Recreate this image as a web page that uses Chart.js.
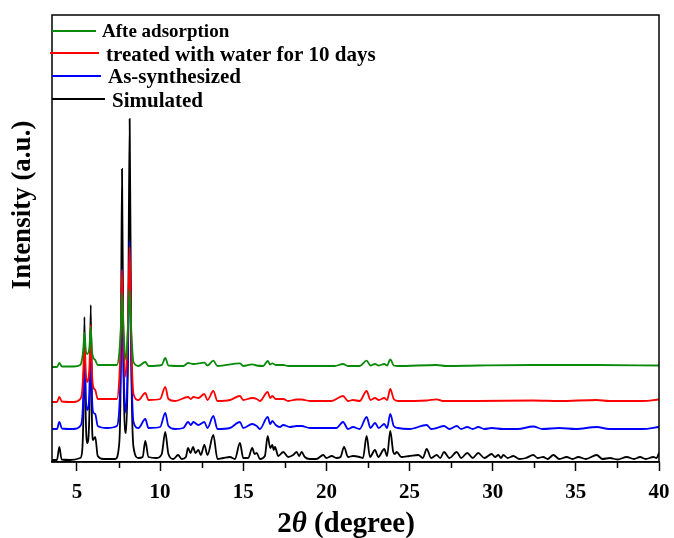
<!DOCTYPE html>
<html>
<head>
<meta charset="utf-8">
<script src="https://cdn.jsdelivr.net/npm/chart.js@4.4.1/dist/chart.umd.min.js"></script>
<style>
  html, body { margin: 0; padding: 0; background: #fff; }
  #wrap { width: 674px; height: 538px; position: relative; }
</style>
</head>
<body>
<div id="wrap"><canvas id="chart"></canvas></div>
<script>
'use strict';
// XRD patterns, [2theta, intensity] (offsets as drawn)
const AFTER_ADSORPTION = [[3.5,95],[3.8,95],[3.94,99],[4.1,95.5],[4.8,95.5],[5.2,97],[5.32,104],[5.39,115],[5.45,129],[5.53,112],[5.62,108],[5.75,115],[5.83,135],[5.9,112],[5.97,105],[6.1,102],[6.25,97],[7.4,97],[7.55,110],[7.64,135],[7.71,169],[7.8,132],[7.95,102],[8.07,135],[8.17,172],[8.27,130],[8.4,100],[8.7,96],[9.11,100],[9.3,96],[10.1,97],[10.31,104],[10.5,96.5],[11.4,96],[11.68,99],[12.0,98],[12.66,99.3],[12.85,96.5],[13.2,101.3],[13.45,96],[14.8,98.7],[15.0,96],[15.54,97.7],[15.8,96.5],[16.2,96],[16.47,101],[16.62,97.5],[16.75,98.7],[16.95,97],[17.41,97],[17.7,96],[20.5,96],[21.0,98],[21.3,96],[22.0,96],[22.42,101.3],[22.65,96.5],[22.92,98],[23.15,96.5],[23.48,98],[23.65,96.5],[23.84,102.7],[24.05,96.5],[24.3,96],[26.63,97],[27.2,96],[29.13,96.5],[32.4,97],[36.25,97],[40,96.5]];
const WATER_10D = [[3.5,60],[3.8,60],[3.94,65],[4.1,60.5],[4.8,60],[5.2,63],[5.32,72],[5.39,95],[5.45,126],[5.53,90],[5.62,80],[5.75,95],[5.83,137],[5.9,92],[5.97,76],[6.1,72],[6.25,63],[7.4,63],[7.55,85],[7.64,130],[7.71,192],[7.8,125],[7.95,85],[8.07,140],[8.17,215],[8.27,120],[8.4,68],[8.7,62],[9.11,69],[9.3,62],[10.0,63],[10.31,75],[10.5,63],[10.9,61],[11.68,65],[11.85,63],[12.0,65],[12.3,64],[12.66,68],[12.85,62],[13.2,71],[13.45,61],[14.2,62],[14.8,66],[15.0,62],[15.54,64],[15.81,63],[16.0,61],[16.47,70],[16.62,64],[16.75,66],[16.95,63],[17.41,63],[17.7,61],[18.21,62.5],[18.51,62.5],[19.0,61],[20.3,61],[21.0,66],[21.3,61],[21.6,62],[22.0,61],[22.42,71],[22.65,62],[22.92,64],[23.15,62],[23.48,64],[23.65,62],[23.84,73],[24.05,63],[24.3,61],[26.0,61.5],[26.63,62.7],[27.0,61],[29.0,61],[32.44,61.5],[34,61],[36.25,62],[37,61],[39,61],[40,62.5]];
const AS_SYNTH = [[3.5,33],[3.8,33],[3.94,40],[4.1,33.5],[4.8,33],[5.2,36],[5.32,45],[5.39,70],[5.45,113],[5.53,65],[5.62,52],[5.75,70],[5.83,127],[5.9,68],[5.97,50],[6.1,48],[6.25,36],[6.8,34],[7.4,36],[7.55,55],[7.64,100],[7.71,193],[7.8,95],[7.95,49],[8.07,110],[8.17,221],[8.27,100],[8.4,40],[8.7,34],[9.11,43],[9.3,34],[10.0,35],[10.31,49],[10.5,36],[10.9,33],[11.4,34],[11.68,40],[11.85,37],[12.0,40],[12.3,37],[12.66,40],[12.85,34],[13.2,46],[13.45,33],[14.2,34],[14.8,40],[15.0,34],[15.54,38],[15.81,36],[16.0,33],[16.47,45],[16.62,38],[16.75,41],[16.95,37],[17.2,35],[17.41,37],[17.8,35],[18.21,36],[18.51,36],[19.0,34],[19.81,34],[20.6,34],[21.0,40],[21.3,33],[21.6,35],[22.0,33],[22.42,45],[22.65,34],[22.92,39],[23.15,34],[23.48,38],[23.65,34],[23.84,48],[24.05,36],[24.3,34],[25.0,33],[26.03,37],[26.3,33],[26.63,34],[27.07,36],[27.4,33],[27.84,36],[28.1,33],[28.47,35],[28.8,33],[29.13,35],[29.5,33],[29.94,34],[30.6,33],[31.5,33],[32.44,35.5],[33.0,33],[34.0,34],[35.0,33],[36.25,35],[37.0,33],[38.0,33],[39.0,33],[40,35]];
const SIMULATED = [[3.5,2],[3.8,2],[3.94,15],[4.08,2.5],[4.6,2],[5.2,4],[5.32,12],[5.39,50],[5.45,145],[5.53,45],[5.62,19],[5.75,50],[5.83,157],[5.9,45],[5.96,22],[6.1,25],[6.25,6],[6.6,3],[7.3,3],[7.55,20],[7.64,100],[7.71,293],[7.8,90],[7.95,29],[8.07,110],[8.17,343],[8.27,100],[8.4,15],[8.7,4],[8.95,5],[9.11,21],[9.3,5],[9.8,4],[10.1,8],[10.31,30],[10.5,8],[10.8,3],[11.08,7],[11.3,3],[11.55,5],[11.68,14],[11.83,9],[11.98,15],[12.12,9],[12.3,12],[12.45,7],[12.66,17],[12.85,7],[13.2,27],[13.45,3],[13.8,4],[14.2,5],[14.5,3],[14.8,19],[15.0,4],[15.3,4],[15.54,14],[15.68,8],[15.81,9],[16.0,3],[16.3,6],[16.47,26],[16.62,14],[16.75,17],[16.83,12],[16.91,15],[17.1,6],[17.41,10],[17.7,5],[18.0,7],[18.21,10],[18.36,6],[18.51,10],[18.7,5],[19.0,3],[19.4,3],[19.81,7],[20.0,4],[20.32,6],[20.6,4],[20.85,5],[21.06,15],[21.3,5],[21.6,6],[22.0,5],[22.2,4],[22.42,26],[22.62,5],[22.92,12],[23.12,5],[23.48,13],[23.65,6],[23.84,31],[24.02,10],[24.12,8],[24.23,10],[24.5,5],[25.0,6],[25.53,7],[25.8,4],[26.03,13],[26.3,4],[26.63,7],[26.85,4],[27.07,10],[27.4,4],[27.84,10],[28.1,4],[28.47,9],[28.8,4],[29.13,9],[29.5,4],[29.94,8],[30.14,5],[30.34,7],[30.5,4],[30.64,7],[30.9,4],[31.24,6],[31.6,3],[32.0,4],[32.44,7],[32.7,4],[33.04,5],[33.3,3],[33.65,7],[34.0,3],[34.45,5],[34.8,3],[35.15,5],[35.6,3],[36.25,7],[36.6,3],[37.05,4],[37.5,2.5],[38.06,5],[38.5,3],[38.86,5],[39.2,3],[39.66,5],[39.85,4],[40,9]];

const LABELS = ['Afte adsorption', 'treated with water for 10 days', 'As-synthesized', 'Simulated'];
const COLORS = ['#0a8a0a', '#ff0000', '#0000ff', '#000000'];
const X_TICKS = [5, 10, 15, 20, 25, 30, 35, 40];
const X_MINOR = [7.5, 12.5, 17.5, 22.5, 27.5, 32.5, 37.5];

const SERIF = "'Liberation Serif', 'Times New Roman', serif";
// hand-placed legend rows as in the figure: line x0,x1,y / text x, baseline, size
const LEGEND_ROWS = [
  { x0: 52, x1: 96, y: 31, tx: 102, ty: 37, size: 19 },
  { x0: 50, x1: 99, y: 53, tx: 106, ty: 60.5, size: 21 },
  { x0: 52, x1: 101, y: 76, tx: 108, ty: 82.5, size: 21 },
  { x0: 52, x1: 105, y: 99, tx: 112, ty: 106.5, size: 21 },
];

const decor = {
  id: 'decor',
  afterDraw(chart) {
    const { ctx, chartArea: a, scales: { x } } = chart;
    ctx.save();
    ctx.strokeStyle = '#000'; ctx.lineWidth = 1.5;
    ctx.strokeRect(a.left, a.top, a.right - a.left, a.bottom - a.top);
    X_MINOR.forEach((v) => {
      const px = Math.round(x.getPixelForValue(v)) + 0.5;
      ctx.beginPath(); ctx.moveTo(px, a.bottom); ctx.lineTo(px, a.bottom + 6); ctx.stroke();
    });
    // legend
    chart.data.datasets.forEach((ds, i) => {
      const r = LEGEND_ROWS[i];
      ctx.strokeStyle = ds.borderColor; ctx.lineWidth = 2;
      ctx.beginPath(); ctx.moveTo(r.x0, r.y); ctx.lineTo(r.x1, r.y); ctx.stroke();
      ctx.fillStyle = '#000'; ctx.font = `bold ${r.size}px ${SERIF}`;
      ctx.textAlign = 'left'; ctx.textBaseline = 'alphabetic';
      ctx.fillText(ds.label, r.tx, r.ty);
    });
    // y title
    ctx.save();
    ctx.translate(30, 205); ctx.rotate(-Math.PI / 2);
    ctx.font = `bold 27px ${SERIF}`; ctx.textAlign = 'center';
    ctx.fillText('Intensity (a.u.)', 0, 0);
    ctx.restore();
    // x title: 2θ (degree), θ italic
    const parts = [['2', `bold 29px ${SERIF}`], ['\u03b8', `italic bold 29px ${SERIF}`], [' (degree)', `bold 29px ${SERIF}`]];
    let w = 0;
    parts.forEach((p) => { ctx.font = p[1]; w += ctx.measureText(p[0]).width; });
    let cx = 346 - w / 2;
    ctx.textAlign = 'left';
    parts.forEach((p) => { ctx.font = p[1]; ctx.fillText(p[0], cx, 532); cx += ctx.measureText(p[0]).width; });
    ctx.restore();
  },
};

const SERIES = [AFTER_ADSORPTION, WATER_10D, AS_SYNTH, SIMULATED];

new Chart(document.getElementById('chart'), {
  type: 'line',
  data: {
    datasets: SERIES.map((s, i) => ({
      label: LABELS[i],
      data: s.map(([x, y]) => ({ x, y })),
      borderColor: COLORS[i], borderWidth: 1.8,
      pointRadius: 0, fill: false, cubicInterpolationMode: 'monotone',
    })),
  },
  options: {
    responsive: true, maintainAspectRatio: false, animation: false,
    layout: { padding: { left: 52, right: 15, top: 15, bottom: 0 } },
    plugins: { legend: { display: false }, tooltip: { enabled: false } },
    scales: {
      x: {
        type: 'linear', min: 3.5, max: 40,
        afterBuildTicks: (s) => { s.ticks = X_TICKS.map((v) => ({ value: v })); },
        afterFit: (s) => { s.height = 76; s.paddingLeft = 0; s.paddingRight = 0; },
        grid: { drawOnChartArea: false, tickLength: 9, tickWidth: 1.5, tickColor: '#000' },
        border: { display: true, color: '#000', width: 1.5 },
        ticks: { color: '#000', padding: 9, maxRotation: 0, autoSkip: false,
          font: { family: SERIF, size: 21, weight: 'bold' } },
      },
      y: { display: false, min: 0, max: 447 },
    },
  },
  plugins: [decor],
});
</script>
</body>
</html>
